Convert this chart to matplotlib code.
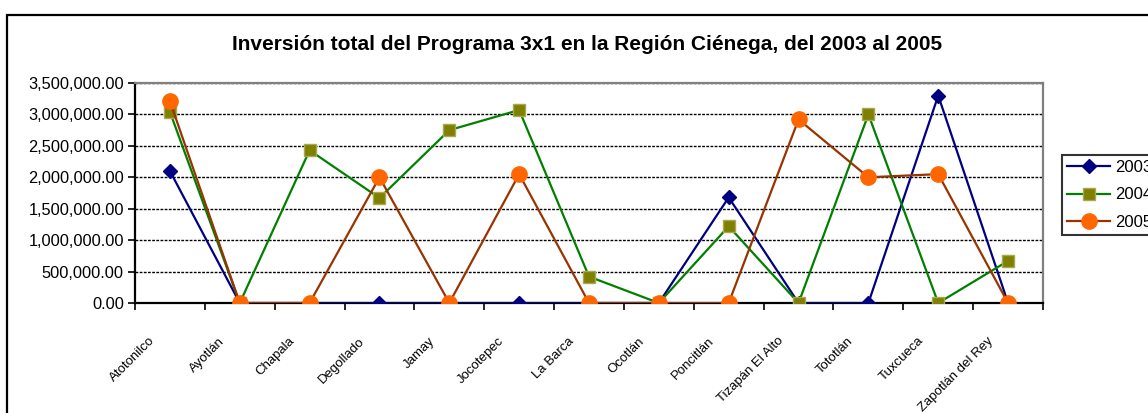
import matplotlib
matplotlib.use("Agg")
import matplotlib.pyplot as plt
import matplotlib.ticker as mticker
import matplotlib.transforms as mtrans
from matplotlib.patches import Rectangle
import numpy as np

categories = ["Atotonilco", "Ayotlán", "Chapala", "Degollado", "Jamay", "Jocotepec",
              "La Barca", "Ocotlán", "Poncitlán", "Tizapán El Alto", "Tototlán",
              "Tuxcueca", "Zapotlán del Rey"]
v2003 = [2100000, 0, 0, 0, 0, 0, 0, 0, 1680000, 0, 0, 3300000, 0]
v2004 = [3040000, 0, 2430000, 1670000, 2750000, 3070000, 420000, 0, 1220000, 0, 3000000, 0, 670000]
v2005 = [3210000, 0, 0, 2000000, 0, 2050000, 0, 0, 0, 2920000, 2000000, 2050000, 0]
series_names = ["2003", "2004", "2005"]
title = "Inversión total del Programa 3x1 en la Región Ciénega, del 2003 al 2005"

plt.rcParams['font.family'] = ['Liberation Sans', 'DejaVu Sans']

W, H = 1148, 413
fig = plt.figure(figsize=(W / 100, H / 100), dpi=100)
L, R, T, B = 135, 1043, 83, 303
ax = fig.add_axes([L / W, 1 - B / H, (R - L) / W, (B - T) / H])

x = np.arange(len(categories))
ax.plot(x, v2003, color='#000080', lw=1.6, marker='D', ms=7, mfc='#000080', mec='#000080',
        label=series_names[0], zorder=3)
ax.plot(x, v2004, color='#008000', lw=1.6, marker='s', ms=8, mfc='#808000', mec='#a8a850',
        mew=1, label=series_names[1], zorder=4)
ax.plot(x, v2005, color='#993300', lw=1.6, marker='o', ms=11, mfc='#ff6600', mec='#ff6600',
        label=series_names[2], zorder=5)

ax.set_xlim(-0.5, len(categories) - 0.5)
ax.set_ylim(0, 3500000)
ax.yaxis.set_major_locator(mticker.MultipleLocator(500000))
ax.yaxis.set_major_formatter(mticker.FuncFormatter(lambda v, p: f"{v:,.2f}"))
ax.grid(axis='y', color='black', lw=1.0, linestyle=(0, (2, 1)), zorder=1)
ax.set_axisbelow(True)

ax.set_xticks(np.arange(len(categories) + 1) - 0.5)
ax.set_xticklabels([])
ax.tick_params(axis='x', direction='out', length=5, width=1.2, color='black')
ax.tick_params(axis='y', direction='out', length=5, width=1.2, color='black',
               labelsize=11.8, pad=3)

# category labels
offset = mtrans.ScaledTranslation(-21 / 100, -32 / 100, fig.dpi_scale_trans)
for i, c in enumerate(categories):
    ax.text(i, 0, c, transform=ax.get_xaxis_transform() + offset,
            rotation=45, ha='right', va='top', rotation_mode='anchor',
            fontsize=9.5, clip_on=False)

for s in ['left', 'bottom']:
    ax.spines[s].set_color('black')
    ax.spines[s].set_linewidth(1.6)
for s in ['top', 'right']:
    ax.spines[s].set_color('#808080')
    ax.spines[s].set_linewidth(1.6)

fig.text(587 / W, 1 - 45 / H, title, ha='center', va='center', fontsize=15, fontweight='bold')

leg = fig.legend(loc='upper left', bbox_to_anchor=(1062 / W, 1 - 155 / H), fontsize=12,
                 frameon=True, fancybox=False, edgecolor='black', borderaxespad=0,
                 borderpad=0.3, labelspacing=0.75, handlelength=2.6, handletextpad=0.3)
leg.get_frame().set_linewidth(1.5)

fig.add_artist(Rectangle((7 / W, -0.1), 1.2, 1 - 15 / H + 0.1, transform=fig.transFigure,
                         fill=False, edgecolor='black', lw=1.6))

fig.savefig("out.png", dpi=100)
